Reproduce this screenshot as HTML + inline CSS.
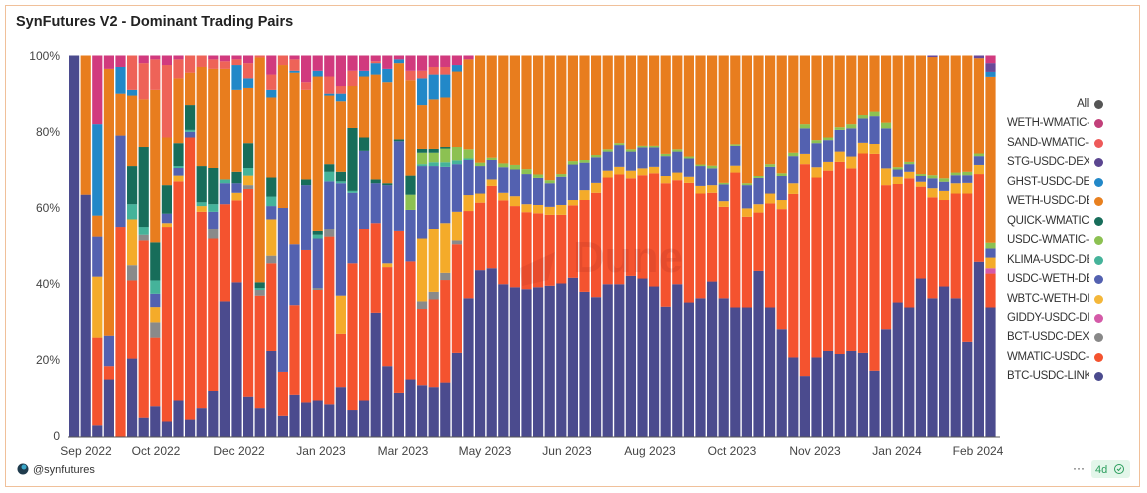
<!DOCTYPE html>
<html><head><meta charset="utf-8">
<style>
html,body{margin:0;padding:0;background:#fff;width:1147px;height:493px;overflow:hidden;font-family:"Liberation Sans",sans-serif;}
#card{position:absolute;left:5px;top:5px;width:1133px;height:480px;border:1px solid #f0c09a;}
.title{position:absolute;left:16px;top:14px;font-size:14.5px;font-weight:bold;color:#222;}
.leg{position:absolute;left:1004px;width:101px;font-size:11.5px;letter-spacing:-0.3px;color:#333;height:16px;line-height:16px;}
.leg span{display:block;width:82px;overflow:hidden;white-space:nowrap;text-align:right;position:absolute;right:16px;}
.leg i{position:absolute;right:2px;top:4px;width:9px;height:9px;border-radius:50%;}
</style></head><body>
<div id="card"></div>
<div class="title">SynFutures V2 - Dominant Trading Pairs</div>
<svg id="s" width="1147" height="493" style="position:absolute;left:0;top:0" xmlns="http://www.w3.org/2000/svg">
<g id="bars"></g>
<text x="628" y="272" font-family="Liberation Sans,sans-serif" font-size="44" font-weight="bold" fill="#8a1e1e" opacity="0.13" text-anchor="middle">Dune</text>
<path d="M520 268 L555 252 L548 280 L522 286 Z" fill="#8a1e1e" opacity="0.12"/>
<line x1="68" y1="437" x2="1000" y2="437" stroke="#555" stroke-width="1"/>
<g font-family="Liberation Sans,sans-serif" font-size="12" fill="#444" text-anchor="end">
<text x="60" y="60">100%</text><text x="60" y="136">80%</text><text x="60" y="212">60%</text>
<text x="60" y="288">40%</text><text x="60" y="364">20%</text><text x="60" y="440">0</text>
</g>
<g font-family="Liberation Sans,sans-serif" font-size="12" fill="#444" text-anchor="middle">
<text x="86" y="455">Sep 2022</text><text x="156" y="455">Oct 2022</text><text x="239" y="455">Dec 2022</text>
<text x="321" y="455">Jan 2023</text><text x="403" y="455">Mar 2023</text><text x="485" y="455">May 2023</text>
<text x="567" y="455">Jun 2023</text><text x="650" y="455">Aug 2023</text><text x="732" y="455">Oct 2023</text>
<text x="815" y="455">Nov 2023</text><text x="897" y="455">Jan 2024</text><text x="978" y="455">Feb 2024</text>
</g>
<circle cx="23" cy="469" r="5.5" fill="#1f3b4d"/><circle cx="24" cy="467" r="2.5" fill="#3aa7c9"/>
<text x="33" y="473" font-family="Liberation Sans,sans-serif" font-size="11" fill="#333">@synfutures</text>
<text x="1073" y="472" font-family="Liberation Sans,sans-serif" font-size="12" fill="#333">···</text>
<rect x="1091" y="460" width="39" height="18" rx="3" fill="#e3f6ea"/>
<text x="1095" y="473" font-family="Liberation Sans,sans-serif" font-size="11" fill="#2a9d5c">4d</text>
<circle cx="1119" cy="469" r="4.5" fill="none" stroke="#2a9d5c" stroke-width="1"/>
<path d="M1117 469 l1.5 1.5 l2.5 -3" fill="none" stroke="#2a9d5c" stroke-width="1"/>
</svg>
<div id="legend"></div>
<script>
var C={N:"#4b4b8e",R:"#f4532f",G:"#8a8a8a",P:"#d45aa8",Y:"#f4ab2a",B:"#5361b0",T:"#45b39a",L:"#8cc152",D:"#176d5a",O:"#e87d1e",H:"#2288c8",S:"#6a4898",A:"#ee6358",M:"#d13a7e"};
var raw=[
"N100","N63.5 O100","N3 R26 Y42 B52.5 O58 H82 M100","N15 R18.5 B26.5 O96.5 M100","R55 B79 O90 H97 M100",
"N20.5 R41 G45 Y57 T61 D71 O89.5 H91 A100","N5 R51.5 G53 T55 D76 O88.5 A98 M100","N8 R26 G30 Y34 B37.5 T41 D51 O91 A99 M100",
"N4 R55 Y56 B58.5 D66 O78.5 A97.5 M100","N9.5 R67 Y68.5 B70.5 T71 D77 O94 A99 M100","N4.5 R78.5 B80 T80.5 D87 O95.5 A100",
"N7.5 R59 Y60.5 T61.5 D71 O97 A100","N12 R52 G54.5 B59 T61 D70.5 O96.5 A99 M100","N35.5 R61 B66.5 T67.5 O96.5 A98.5 M100",
"N40.5 R62 Y64 B66.5 D69.5 O91 H97.5 A99 M100","N10.5 R65 G66 Y68.5 T70.5 D77 O91.5 H94 A98 M100","N7.5 R37 G38.5 T39 D40.5 O99.5 A100",
"N22.5 R45.5 G47.5 Y57 B60.5 T63 D68 O89 H91 A95 M100","N5.5 R17 B60 O97.5 A100","N11 R34.5 B50.5 O95.5 H96 A99 M100",
"N9 R49 B66 D67.5 O91 A93 M100","N9.5 R38.5 G39 B52 T53 D54 O94.5 H96 M100","N8.5 R52.5 G54.5 B67 T69.5 D71.5 O89.5 H90 A94.5 M100",
"N13 R27 Y37 B66.5 T67 D69.5 O88 H90 A92 M100","N7 R45.5 B64 T64.5 D81 O92 A96 M100","N9.5 R54.5 B75 D78.5 O94.5 H96 M100",
"N32.5 R56 B66.5 D67.5 O95 H98 A98.5 M100","N18.5 R44.5 Y45.5 B66 D66.5 O93 H96.5 M100","N11.5 R54 B77.5 D78 O98 H99 M100",
"N15 R46 B59.5 L63.5 D68.5 O93.5 A96 M100","N13.5 R33.5 G35.5 Y52 B71 T71.5 L74.5 D75.5 O87 H94 A96 M100",
"N13 R36 G38 Y54.5 B71 T72 L74.5 D75.5 O88.5 H95 A97 M100","N14.2 R41.1 G43 Y56 B70.8 T72 L75.6 D76 O89 H95 A97 M100",
"N22 R50.5 G51.5 Y59 B71.5 T72.5 L76 O95.8 H97.5 M100","N36.3 R59.2 Y63.4 B72.6 T73 L75.4 O99 M100"];
var simple=[[43.7,61.4,63.8,71,71.9],[44.2,65.8,67.5,72.6,73.2],[40,62,64,70.7,71.7],[39.2,60.5,63.1,70.1,71.3],[38.7,58.9,61,68.9,70.2],
[39.2,58.6,60.8,67.9,68.8],[39.6,58.2,60.3,66.5,67.3],[40.2,58.2,60.8,68.2,68.9],[41.7,60.7,62.1,71.4,72.3],[38,62.1,64.7,71.9,72.6],
[36.6,64,66.6,73.3,73.9],[40,68,69.8,74.8,75.4],[40,68.8,70.8,76.5,77],[42.2,67.8,69.8,74.8,75.4],[41.5,68.6,70.4,75.9,76.3],
[39.4,69.1,70.8,75.9,76.3],[34.1,66.5,68.4,73.6,74.2],[40,67.3,69.3,74.8,75.4],[35.2,66.6,68.2,73,73.5],[36.3,63.8,65.8,71,71.4],
[40.7,64,66,70.4,71.1],[36.3,60.3,61.8,66.2,66.6],[33.9,69.3,71.1,76.3,76.7],[33.9,57.7,59.9,66,66.5],[43.5,58.8,61,67.9,68.4],
[33.9,61.2,63.8,70.8,71.5],[28.2,59.7,62.1,68.4,69.1],[20.8,63.7,66.5,73.6,74.5],[15.9,71.5,74.2,80.9,82],[20.8,68,70.7,77,77.8],
[22.5,69.8,72.1,77.8,78.5],[21.7,72.1,74.8,80.5,81.2],[22.5,70.4,73.5,80.9,82],[22,74.3,77.1,83.5,84.4],[17.3,74.2,76.8,84.1,85.3],
[28.2,66,70.4,80.9,82.4],[35.2,66.3,68.2,70.1,70.7],[33.9,67.8,69.5,71.5,72.1],[41.5,65.6,66.9,68.4,68.9],[36.3,62.8,65.2,67.8,68.6],
[39.4,62.1,64.5,66.9,67.8],[36.3,63.8,66.5,68.6,69.3],[24.9,63.8,66.6,68.6,69.5]];
simple.forEach(function(a,i){raw.push("N"+a[0]+" R"+a[1]+" Y"+a[2]+" B"+a[3]+" L"+a[4]+(i==39?" O99.6 S100":" O100"));});
raw.push("N45.9 R68.9 Y71.3 B73.6 L74.3 O99.3 S100");
raw.push("N33.9 R42.8 P44.2 Y47 B49.4 L50.9 O94.4 H95.7 S98 M100");
var g=document.getElementById("bars"),h="",y0=436.7,k=3.812,pitch=11.6,w=10.2;
raw.forEach(function(s,i){var x=69+i*pitch,prev=0;s.split(" ").forEach(function(t){var c=t[0],v=parseFloat(t.slice(1));
if(v>prev){h+='<rect x="'+x.toFixed(2)+'" y="'+(y0-v*k).toFixed(2)+'" width="'+w+'" height="'+((v-prev)*k+0.05).toFixed(2)+'" fill="'+C[c]+'"/>';}prev=v;});});
g.innerHTML=h;
var L=[["All","#555"],["WETH-WMATIC-DEXV2","#c2407a"],["SAND-WMATIC-DEXV2","#ee5a5a"],["STG-USDC-DEXV2","#5b4690"],["GHST-USDC-DEXV2","#2288c8"],["WETH-USDC-DEXV2","#e8801f"],["QUICK-WMATIC-DEXV2","#176d5a"],["USDC-WMATIC-DEXV2","#8cc152"],["KLIMA-USDC-DEXV2","#45b39a"],["USDC-WETH-DEXV2","#5361b0"],["WBTC-WETH-DEXV2","#f4b73a"],["GIDDY-USDC-DEXV2","#d45aa8"],["BCT-USDC-DEXV2","#888"],["WMATIC-USDC-DEXV2","#f4532f"],["BTC-USDC-LINK","#4b4b8e"]];
var lh="";L.forEach(function(a,i){var t=96+i*19.45;lh+='<div class="leg" style="top:'+t+'px"><span>'+a[0]+'</span><i style="background:'+a[1]+'"></i></div>';});
document.getElementById("legend").innerHTML=lh;
</script>
</body></html>
